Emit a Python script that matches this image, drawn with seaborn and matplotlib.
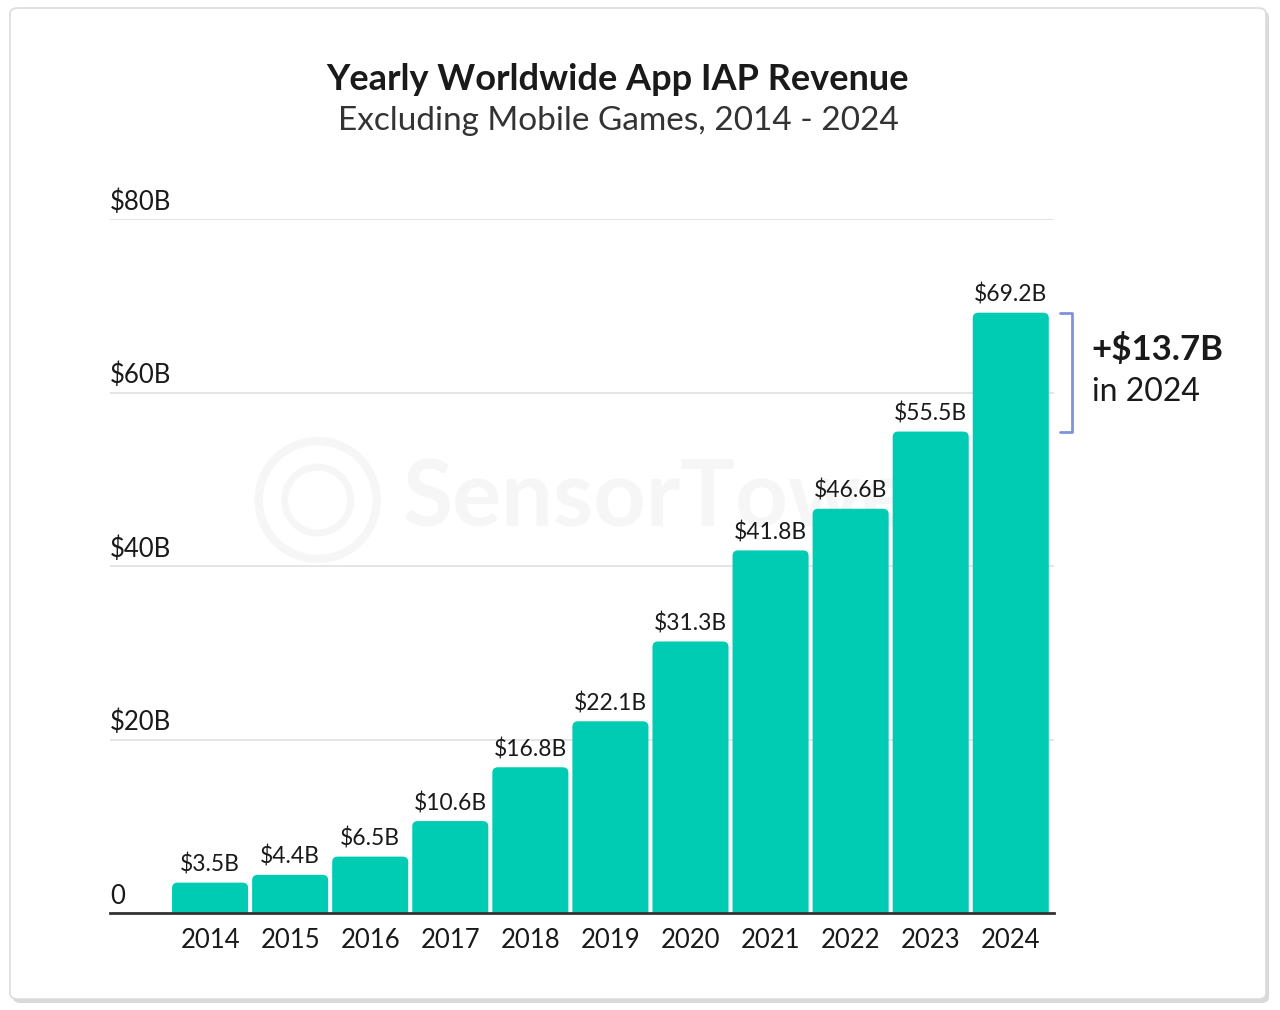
import matplotlib
matplotlib.use("Agg")
import matplotlib.pyplot as plt
import matplotlib.patches as mpatches
import matplotlib.transforms as mtransforms
import pandas as pd
import seaborn as sns

years = ["2014", "2015", "2016", "2017", "2018", "2019", "2020", "2021", "2022", "2023", "2024"]
revenue = [3.5, 4.4, 6.5, 10.6, 16.8, 22.1, 31.3, 41.8, 46.6, 55.5, 69.2]
y_ticks = [0, 20, 40, 60, 80]
y_tick_labels = ["0", "$20B", "$40B", "$60B", "$80B"]
growth_label = "+$13.7B"
growth_note = "in 2024"

BAR = "#00CCB4"
TEXT = "#1a1a1a"
WATERMARK = "#f6f6f6"

sns.set_style("white")
plt.rcParams["font.family"] = ["Lato", "DejaVu Sans"]

df = pd.DataFrame({"Year": years, "Revenue": revenue})

fig = plt.figure(figsize=(12.8, 10.1), dpi=100)

# card background with a soft shadow
shadow = mpatches.FancyBboxPatch((13 / 1280, 1 - 1003 / 1010), 1256 / 1280, 992 / 1010,
                                 boxstyle="round,pad=0,rounding_size=0.006",
                                 transform=fig.transFigure, facecolor="#d9d9d9",
                                 edgecolor="none", zorder=-3)
card = mpatches.FancyBboxPatch((10 / 1280, 1 - 999 / 1010), 1256 / 1280, 991 / 1010,
                               boxstyle="round,pad=0,rounding_size=0.006",
                               transform=fig.transFigure, facecolor="white",
                               edgecolor="#dcdcdc", linewidth=1.2, zorder=-2)
fig.patches.extend([shadow, card])

ax = fig.add_axes([110 / 1280, 1 - 913 / 1010, 944 / 1280, 694 / 1010])
ax.set_facecolor("none")

sns.barplot(data=df, x="Year", y="Revenue", color=BAR, saturation=1, width=0.95, ax=ax, zorder=3)

ax.set_xlim(-1.25, 10.54)
ax.set_ylim(0, 80)

# value labels above bars
ax.bar_label(ax.containers[0], labels=[f"${v}B" for v in revenue], padding=5,
             fontsize=16.5, color=TEXT, zorder=6)

# rounded tops for the bars
for p in list(ax.patches):
    x, w, h = p.get_x(), p.get_width(), p.get_height()
    rb = mpatches.FancyBboxPatch((x, -2), w, h + 2,
                                 boxstyle="round,pad=0,rounding_size=0.07",
                                 mutation_aspect=9.0, facecolor=BAR,
                                 edgecolor="none", zorder=3)
    ax.add_patch(rb)
    p.set_visible(False)

# grid + y labels sitting above the lines
ax.set_yticks(y_ticks)
ax.set_yticklabels([])
ax.grid(axis="y", color="#dedede", linewidth=1.1, zorder=0)
ax.grid(axis="x", visible=False)
trans = mtransforms.blended_transform_factory(ax.transAxes, ax.transData)
for v, lab in zip(y_ticks, y_tick_labels):
    ax.text(0, v + 0.5, lab, transform=trans, ha="left", va="bottom",
            fontsize=18.5, color=TEXT)

for s in ["top", "right", "left"]:
    ax.spines[s].set_visible(False)
ax.spines["bottom"].set_color("#333333")
ax.spines["bottom"].set_linewidth(2)
ax.spines["bottom"].set_zorder(5)
ax.tick_params(axis="x", length=0, pad=11, labelsize=18.5, labelcolor=TEXT)
ax.tick_params(axis="y", length=0)
ax.set_xlabel("")
ax.set_ylabel("")

# faint watermark
ax.text(0.31, 0.595, "SensorTower", transform=ax.transAxes, fontsize=66,
        fontweight="bold", color=WATERMARK, ha="left", va="center", zorder=1)
ax.add_patch(mpatches.Ellipse((0.22, 0.595), 0.125, 0.17, transform=ax.transAxes,
                              facecolor="none", edgecolor=WATERMARK, linewidth=6, zorder=1))
ax.add_patch(mpatches.Ellipse((0.22, 0.595), 0.07, 0.095, transform=ax.transAxes,
                              facecolor="none", edgecolor=WATERMARK, linewidth=5, zorder=1))

# growth bracket on the last bar
bx, tx = 10.77, 10.61
ax.plot([tx, bx, bx, tx], [revenue[-1], revenue[-1], revenue[-2], revenue[-2]],
        color="#7f92df", linewidth=2, clip_on=False, zorder=4)
ax.text(11.01, (revenue[-1] + revenue[-2]) / 2 + 2.6, growth_label, fontsize=25,
        fontweight="bold", color=TEXT, ha="left", va="center", clip_on=False)
ax.text(11.01, (revenue[-1] + revenue[-2]) / 2 - 2.3, growth_note, fontsize=23,
        color=TEXT, ha="left", va="center", clip_on=False)

fig.text(618 / 1280, 1 - 79 / 1010, "Yearly Worldwide App IAP Revenue", fontsize=26,
         fontweight="bold", color=TEXT, ha="center", va="center")
fig.text(618 / 1280, 1 - 121 / 1010, "Excluding Mobile Games, 2014 - 2024", fontsize=24,
         color="#333333", ha="center", va="center")

fig.savefig("out.png", dpi=100)
